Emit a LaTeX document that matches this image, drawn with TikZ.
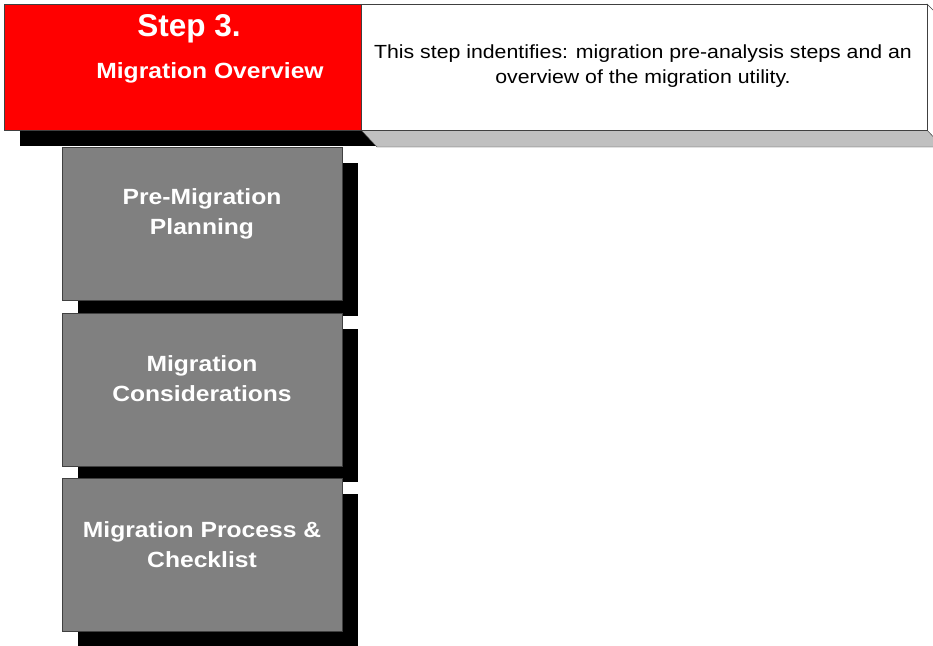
\documentclass[tikz,border=0pt]{standalone}
\usepackage{fontspec}
\setmainfont{Liberation Sans}
\newfontfamily\widefont[FakeStretch=1.12]{Liberation Sans}
\usetikzlibrary{shadows}

\definecolor{stepred}{RGB}{255,0,0}
\definecolor{stagegray}{RGB}{128,128,128}
\definecolor{facegray}{RGB}{192,192,192}
\definecolor{edgegray}{RGB}{64,64,64}

\tikzset{
  boxshadow/.style={general shadow={fill=black, shadow xshift=16pt, shadow yshift=-16pt}},
  stagebox/.style={rectangle, draw=edgegray, fill=stagegray, anchor=north west,
    minimum width=280pt, minimum height=153pt, inner sep=0pt, boxshadow},
  stagetext/.style={text=white, align=center, font=\widefont\fontsize{22}{30}\selectfont\bfseries}
}

\begin{document}
\begin{tikzpicture}[x=1pt,y=-1pt]
  \useasboundingbox (0,0) rectangle (933,645);
  \clip (0,0) rectangle (933,645);

  % header
  \node (step) [rectangle, draw=edgegray, fill=stepred, anchor=north west, inner sep=0pt,
    minimum width=357pt, minimum height=126pt, boxshadow] at (4,4) {};
  \filldraw[fill=facegray, draw=edgegray] (361,130) -- (927,130) -- (943,147) -- (377,147) -- cycle;
  \filldraw[fill=white, draw=edgegray] (927,4) -- (943,20) -- (943,147) -- (927,130) -- cycle;
  \node (info) [rectangle, draw=edgegray, fill=white, anchor=north west, inner sep=0pt,
    minimum width=566pt, minimum height=126pt] at (361,4) {};

  \begin{scope}[every node/.style={text=white, font=\bfseries}]
    \node (stepno)  at (189,29) {\fontsize{31.5}{34}\selectfont Step 3.};
    \node (steptit) at (210,73) {\widefont\fontsize{22}{25}\selectfont Migration Overview};
  \end{scope}
  \node (infotxt) [align=center, font=\widefont\fontsize{19}{25}\selectfont] at (643,66)
    {This step indentifies: migration pre-analysis steps and an\\overview of the migration utility.};

  % stages
  \node (pre)  [stagebox] at (62,147) {};
  \node (cons) [stagebox] at (62,313) {};
  \node (proc) [stagebox] at (62,478) {};

  \begin{scope}[every node/.style={stagetext}]
    \node (pretxt)  at (202,214) {Pre-Migration\\Planning};
    \node (constxt) at (202,379) {Migration\\Considerations};
    \node (proctxt) at (202,545) {Migration Process \&\\Checklist};
  \end{scope}

\end{tikzpicture}
\end{document}
